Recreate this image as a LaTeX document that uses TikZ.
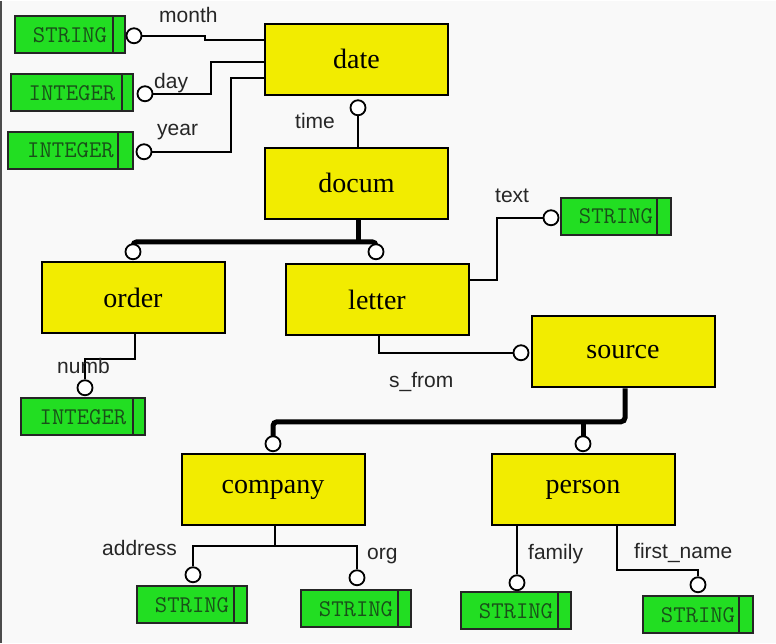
\documentclass[tikz,border=0pt]{standalone}
\usepackage{fontspec}
\setmainfont{Liberation Serif}
\newfontfamily\lsans{Liberation Sans}
\pgfdeclarelayer{back}
\pgfsetlayers{back,main}
\definecolor{ent}{RGB}{242,236,0}
\definecolor{dom}{RGB}{34,222,34}
\definecolor{domtext}{RGB}{25,80,25}
\definecolor{bg}{RGB}{249,249,249}
\begin{document}
\begin{tikzpicture}[x=1pt,y=-1pt,
  ybox/.style={draw=black,line width=2pt,fill=ent,rectangle,minimum width=183pt,minimum height=71pt,inner sep=0pt,
    font=\fontsize{28}{30}\selectfont},
  gbox/.style={draw=black!85,line width=2pt,fill=dom,rectangle,minimum width=110pt,minimum height=37pt,inner sep=0pt,
    text=domtext,font=\ttfamily\fontsize{24}{26}\selectfont,
    path picture={\draw[black!85,line width=1.6pt] ([xshift=-#1pt]path picture bounding box.north east) -- ([xshift=-#1pt]path picture bounding box.south east);}},
  gbox/.default=13,
  ring/.style={circle,draw=black,line width=1.8pt,fill=white,minimum size=15pt,inner sep=0pt},
  conn/.style={line width=1.6pt,black},
  bold/.style={line width=5pt,black,rounded corners=4pt},
  lab/.style={font=\lsans\fontsize{21}{24}\selectfont,anchor=base west,inner sep=0pt,text=black!85}
]
\begin{pgfonlayer}{back}
\fill[bg] (0,0) rectangle (776,642);
\draw[black!70,line width=1.5pt] (1,0) -- (1,642);
\end{pgfonlayer}
\useasboundingbox (0,0) rectangle (776,642);

% entities
\node[ybox] (date) at (356.5,58.5) {date};
\node[ybox] (docum) at (356.5,182.5) {docum};
\node[ybox] (order) at (133,297) {order};
\node[ybox] (letter) at (377,299) {letter};
\node[ybox] (source) at (623,351) {source};
\node[ybox] (company) at (273,489) {company};
\node[ybox] (person) at (583,489) {person};

% domains
\node[gbox=12] (gmonth) at (70,34) {STRING};
\node[gbox=11,minimum width=122pt] (gday) at (72,92) {INTEGER};
\node[gbox=15,minimum width=125pt] (gyear) at (70.5,149.5) {INTEGER};
\node[gbox=14] (gtext) at (616,215.5) {STRING};
\node[gbox=12,minimum width=124pt] (gnumb) at (83,416) {INTEGER};
\node[gbox] (gaddr) at (192,604) {STRING};
\node[gbox] (gorg) at (356,608) {STRING};
\node[gbox] (gfam) at (516,610) {STRING};
\node[gbox=14] (gfirst) at (698,614) {STRING};

% rings
\node[ring] (cmonth) at (134,35) {};
\node[ring] (cday) at (145,93) {};
\node[ring] (cyear) at (144,151) {};
\node[ring] (ctime) at (358,107) {};
\node[ring] (corder) at (133,251) {};
\node[ring] (cletter) at (376,251) {};
\node[ring] (ctext) at (551,217) {};
\node[ring] (cnumb) at (85,387) {};
\node[ring] (csrc) at (521,352) {};
\node[ring] (ccomp) at (273,443) {};
\node[ring] (cpers) at (583,443) {};
\node[ring] (caddr) at (193,574) {};
\node[ring] (corg) at (357,577) {};
\node[ring] (cfam) at (517,582) {};
\node[ring] (cfirst) at (698,584) {};

\begin{pgfonlayer}{back}
% thin connectors
\draw[conn] (cmonth.east) -- (205,35) -- (205,39) -- (date.west |- 0,39);
\draw[conn] (cday.east) -- (211,93) |- (date.west |- 0,61);
\draw[conn] (cyear.east) -- (231,151) |- (date.west |- 0,77);
\draw[conn] (ctime.south) -- (ctime |- docum.north);
\draw[conn] (letter.east |- 0,279) -- (497,279) |- (ctext.west);
\draw[conn] (order.south -| 135,0) -- (135,358) -| (cnumb.north);
\draw[conn] (letter.south -| 379,0) |- (csrc.west);
\draw[conn] (company.south -| 275,0) -- (275,545);
\draw[conn] (caddr.north) |- (275,545) -| (corg.north);
\draw[conn] (person.south -| cfam) -- (cfam.north);
\draw[conn] (person.south -| 617,0) -- (617,569) -| (cfirst.north);

% thick connectors
\draw[bold] (358,241) -- (docum.south -| 358,0);
\draw[bold] (corder.center) |- (358,241) -| (cletter.center);
\draw[bold] (source.south -| 625,0) -- (625,421) -| (ccomp.center);
\draw[line width=5pt] (583,421) -- (cpers.center);
\end{pgfonlayer}

% labels
\node[lab] (lmonth) at (159,22) {month};
\node[lab] (lday) at (154,88) {day};
\node[lab] (lyear) at (157,135) {year};
\node[lab] (ltime) at (295,128) {time};
\node[lab] (ltext) at (495,202) {text};
\node[lab] (lnumb) at (57,373) {numb};
\node[lab] (lsfrom) at (389,387) {s\_from};
\node[lab] (laddr) at (102,555) {address};
\node[lab] (lorg) at (367,559) {org};
\node[lab] (lfam) at (528,559) {family};
\node[lab] (lfirst) at (634,558) {first\_name};
\end{tikzpicture}
\end{document}
